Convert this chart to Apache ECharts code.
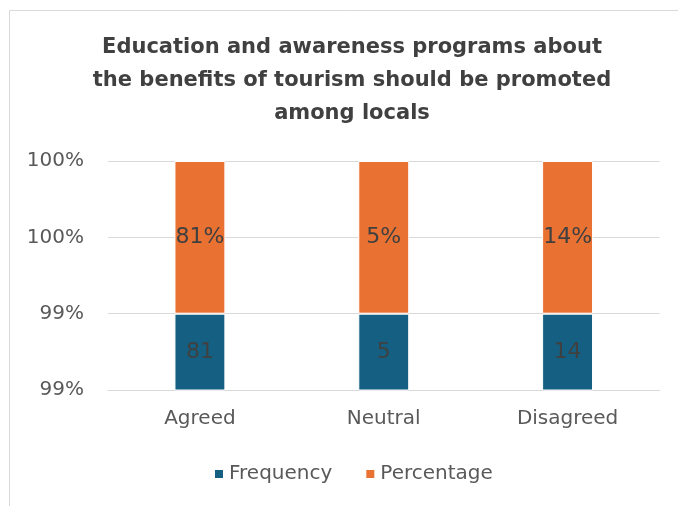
<!DOCTYPE html>
<html><head><meta charset="utf-8">
<script src="https://cdn.jsdelivr.net/npm/echarts@6/dist/echarts.min.js"></script>
<style>html,body{margin:0;padding:0;background:#fff}#c{width:678px;height:506px}</style>
</head><body><div id="c"></div>
<script>
const titleText = 'Education and awareness programs about\nthe benefits of tourism should be promoted\namong locals';
const categories = ['Agreed', 'Neutral', 'Disagreed'];
const frequency = [81, 5, 14];
const percentage = [0.81, 0.05, 0.14];
const seriesNames = ['Frequency', 'Percentage'];

// 100% stacked shares
const totals = frequency.map((f, i) => f + percentage[i]);
const freqShare = frequency.map((f, i) => f / totals[i] * 100);
const pctShare = percentage.map((p, i) => p / totals[i] * 100);
// axis: top at 100%, three intervals, bottom segment = one interval
const yMax = 100;
const yInterval = Math.round(pctShare[0] / 2 * 1000) / 1000;
const yMin = Math.round((yMax - 3 * yInterval) * 1000) / 1000;

const axisFont = 'DejaVu Sans';
const chart = echarts.init(document.getElementById('c'), null, {renderer: 'canvas'});
chart.setOption({
  animation: false,
  backgroundColor: '#ffffff',
  graphic: [{
    type: 'rect', shape: {x: 9.5, y: 10.5, width: 700, height: 560},
    style: {fill: 'none', stroke: '#D9D9D9', lineWidth: 1}, silent: true, z: -10
  }],
  title: {
    text: titleText, left: 352, top: 31, textAlign: 'center', padding: 0,
    textStyle: {fontFamily: 'DejaVu Sans', fontWeight: 'bold', fontSize: 21, lineHeight: 33, color: '#404040'}
  },
  legend: {
    data: seriesNames, left: 213, top: 464, padding: 0, icon: 'rect', itemWidth: 10, itemHeight: 10, itemGap: 32,
    textStyle: {fontFamily: axisFont, fontSize: 20, color: '#595959'}
  },
  grid: {left: 108, right: 18.5, top: 161, bottom: 116, containLabel: false},
  xAxis: {
    type: 'category', data: categories,
    axisTick: {show: false},
    axisLine: {show: true, lineStyle: {color: '#D9D9D9', width: 1}},
    axisLabel: {fontFamily: axisFont, fontSize: 20, color: '#595959', margin: 19}
  },
  yAxis: {
    type: 'value', min: yMin, max: yMax, interval: yInterval,
    axisLine: {show: false}, axisTick: {show: false},
    splitLine: {lineStyle: {color: '#D9D9D9', width: 1}},
    axisLabel: {fontFamily: axisFont, fontSize: 20, color: '#595959', margin: 24,
      formatter: v => Math.round(v) + '%'}
  },
  series: [
    {
      name: seriesNames[0], type: 'bar', stack: 'total', barWidth: '27.7%',
      data: freqShare,
      itemStyle: {color: '#156082', borderColor: '#ffffff', borderWidth: 1},
      label: {show: true, position: 'inside', fontFamily: axisFont, fontSize: 22, color: '#404040',
        formatter: p => String(frequency[p.dataIndex])}
    },
    {
      name: seriesNames[1], type: 'bar', stack: 'total', barWidth: '27.7%',
      data: pctShare,
      itemStyle: {color: '#E97132', borderColor: '#ffffff', borderWidth: 1},
      label: {show: true, position: 'inside', fontFamily: axisFont, fontSize: 22, color: '#404040',
        formatter: p => Math.round(percentage[p.dataIndex] * 100) + '%'}
    }
  ]
});
</script>
</body></html>
